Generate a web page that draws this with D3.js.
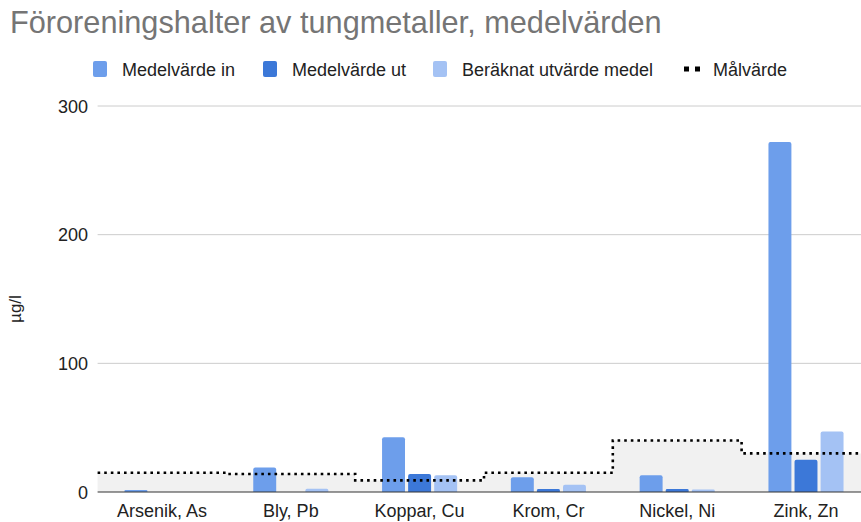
<!DOCTYPE html>
<html>
<head>
<meta charset="utf-8">
<script src="https://cdn.jsdelivr.net/npm/d3@7"></script>
<style>
  body { margin: 0; background: #fff; }
  svg { display: block; }
</style>
</head>
<body>
<div id="chart"></div>
<script>
// data (µg/l)
const categories = ["Arsenik, As", "Bly, Pb", "Koppar, Cu", "Krom, Cr", "Nickel, Ni", "Zink, Zn"];
const seriesNames = ["Medelvärde in", "Medelvärde ut", "Beräknat utvärde medel"];
const medelIn = [1.5, 19, 42.5, 11.5, 13, 272];
const medelUt = [0, 0, 14, 2.3, 2.3, 25];
const beraknat = [0, 2.5, 13, 5.7, 2, 47];
const malvarde = [15, 14, 9, 15, 40, 30];
const yTicks = [0, 100, 200, 300];
const colors = ["#6d9eeb", "#3c78d8", "#a4c2f4"];

const W = 861, H = 522;
const margin = {top: 106, right: -9.4, bottom: 30, left: 97.6};
const axisFont = "'Liberation Sans', Arial, sans-serif";

const svg = d3.select("#chart").append("svg")
    .attr("width", W)
    .attr("height", H)

const x0 = d3.scaleBand()
    .domain(categories)
    .range([margin.left, W - margin.right])
    .padding(0)

const x1 = d3.scaleBand()
    .domain(seriesNames)
    .range([0, x0.bandwidth()])
    .paddingInner(0.12)
    .paddingOuter(1.03)

const y = d3.scaleLinear()
    .domain([0, 300])
    .range([492, 106])

// title
svg.append("text")
    .attr("x", 10)
    .attr("y", 33)
    .style("font-family", axisFont)
    .style("font-size", "30.7px")
    .style("fill", "#757575")
    .text("Föroreningshalter av tungmetaller, medelvärden")

// legend
const legendItems = [
  {name: seriesNames[0], x: 93, type: "rect", color: colors[0]},
  {name: seriesNames[1], x: 263, type: "rect", color: colors[1]},
  {name: seriesNames[2], x: 433, type: "rect", color: colors[2]},
  {name: "Målvärde", x: 683, type: "dots"}
]
const legend = svg.append("g").attr("class", "legend")
legendItems.forEach(function(d) {
  const g = legend.append("g").attr("transform", "translate(" + d.x + ",69)")
  if (d.type === "rect") {
    g.append("rect")
      .attr("x", 0).attr("y", -8)
      .attr("width", 14).attr("height", 16)
      .attr("rx", 2)
      .style("fill", d.color)
  } else {
    g.append("rect").attr("x", 1).attr("y", -2.5).attr("width", 5).attr("height", 5).style("fill", "#000")
    g.append("rect").attr("x", 12).attr("y", -2.5).attr("width", 5).attr("height", 5).style("fill", "#000")
  }
  g.append("text")
    .attr("x", d.type === "rect" ? 29 : 30)
    .attr("y", 6.5)
    .style("font-family", axisFont)
    .style("font-size", "18px")
    .style("fill", "#222")
    .text(d.name)
})

// grid + y axis labels
const grid = svg.append("g").attr("class", "grid")
grid.selectAll("line")
  .data(yTicks.filter(function(t) { return t > 0; }))
  .enter().append("line")
    .attr("x1", margin.left).attr("x2", W)
    .attr("y1", function(d) { return y(d); })
    .attr("y2", function(d) { return y(d); })
    .style("stroke", "#cccccc")
    .style("stroke-width", 1)

svg.append("g").selectAll("text")
  .data(yTicks)
  .enter().append("text")
    .attr("x", 88)
    .attr("y", function(d) { return y(d) + 6.5; })
    .attr("text-anchor", "end")
    .style("font-family", axisFont)
    .style("font-size", "18px")
    .style("fill", "#222")
    .text(function(d) { return d; })

svg.append("text")
    .attr("transform", "translate(21,309) rotate(-90)")
    .attr("text-anchor", "middle")
    .style("font-family", axisFont)
    .style("font-size", "17px")
    .style("fill", "#222")
    .text("µg/l")

// målvärde stepped area
const stepPts = categories.map(function(c, i) { return [x0(c), malvarde[i]]; })
stepPts.push([x0.range()[1], malvarde[malvarde.length - 1]])

svg.append("path")
    .datum(stepPts)
    .attr("d", d3.area()
      .x(function(d) { return d[0]; })
      .y0(y(0))
      .y1(function(d) { return y(d[1]); })
      .curve(d3.curveStepAfter))
    .style("fill", "#f1f1f1")

// bars
const seriesVals = [medelIn, medelUt, beraknat]
const groups = svg.append("g").selectAll("g")
  .data(categories)
  .enter().append("g")
    .attr("transform", function(d) { return "translate(" + x0(d) + ",0)"; })

groups.selectAll("path")
  .data(function(d, i) { return seriesNames.map(function(s, j) { return {s: s, v: seriesVals[j][i], c: colors[j]}; }); })
  .enter().append("path")
    .attr("d", function(d) {
      const bx = x1(d.s), bw = x1.bandwidth(), top = y(d.v), bot = y(0)
      const r = Math.min(2, (bot - top) / 2)
      if (d.v <= 0) return ""
      return "M" + bx + "," + bot +
        "V" + (top + r) + "Q" + bx + "," + top + " " + (bx + r) + "," + top +
        "H" + (bx + bw - r) + "Q" + (bx + bw) + "," + top + " " + (bx + bw) + "," + (top + r) +
        "V" + bot + "Z"
    })
    .style("fill", function(d) { return d.c; })

// målvärde dotted line
svg.append("path")
    .datum(stepPts)
    .attr("d", d3.line()
      .x(function(d) { return d[0]; })
      .y(function(d) { return y(d[1]); })
      .curve(d3.curveStepAfter))
    .style("fill", "none")
    .style("stroke", "#000")
    .style("stroke-width", 2.6)
    .style("stroke-dasharray", "2.6,4")

// baseline
svg.append("line")
    .attr("x1", margin.left).attr("x2", W)
    .attr("y1", y(0)).attr("y2", y(0))
    .style("stroke", "#333")
    .style("stroke-width", 1.2)

// category labels
svg.append("g").selectAll("text")
  .data(categories)
  .enter().append("text")
    .attr("x", function(d) { return x0(d) + x0.bandwidth() / 2; })
    .attr("y", 517)
    .attr("text-anchor", "middle")
    .style("font-family", axisFont)
    .style("font-size", "18px")
    .style("fill", "#222")
    .text(function(d) { return d; })
</script>
</body>
</html>
